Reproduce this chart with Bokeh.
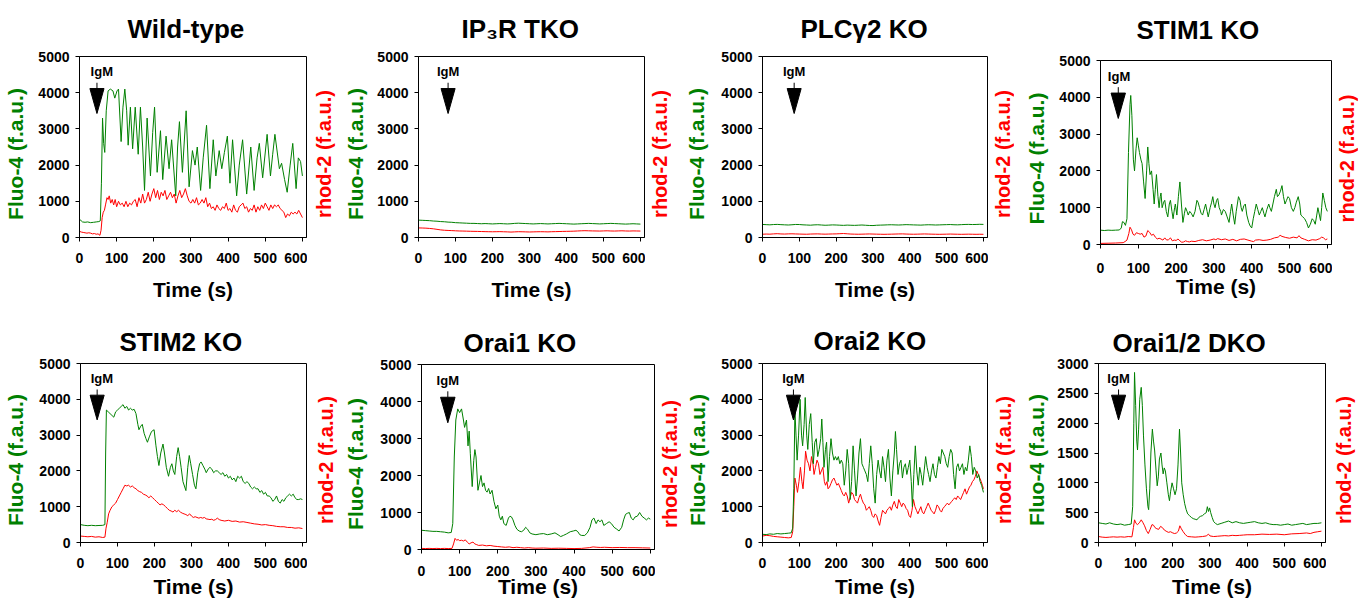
import math
from bokeh.plotting import figure
from bokeh.models import Range1d, FixedTicker
from bokeh.layouts import row, column
from bokeh.embed import file_html
from bokeh.resources import INLINE
from bokeh.core.properties import value

FONT = "Liberation Sans"
GREEN = "#008000"
RED = "#ff0000"

# ---------------- data (time in s, fluorescence in f.a.u.) ----------------
titles = ["Wild-type", "IP\u2083R TKO", "PLC\u03b32 KO", "STIM1 KO",
          "STIM2 KO", "Orai1 KO", "Orai2 KO", "Orai1/2 DKO"]
y_max = [5000, 5000, 5000, 5000, 5000, 5000, 5000, 3000]
y_step = [1000, 1000, 1000, 1000, 1000, 1000, 1000, 500]
igm_time = [47, 80, 86, 47, 45, 69, 84, 54]
x_ticks = [0, 100, 200, 300, 400, 500, 600]

wt_fluo = [(0,500),(4,470),(8,430),(15,420),(22,430),(30,410),(38,420),(45,430),(52,440),(56,460),(59,1500),(62,3300),(65,2600),(68,2350),(72,3500),(77,4050),(83,4100),(90,4050),(95,3850),(101,4050),(105,4100),(112,2650),(117,3600),(122,4100),(127,3500),(131,2550),(137,3600),(143,2450),(150,3600),(158,2300),(164,3600),(170,2500),(175,1300),(182,3300),(191,1700),(197,2900),(202,3600),(209,1800),(218,2950),(224,1600),(233,2800),(241,1900),(248,2700),(259,1150),(264,2500),(269,3200),(277,1800),(287,3500),(295,1400),(304,2400),(311,2000),(317,2500),(326,1300),(333,2200),(342,3100),(351,1350),(360,2700),(367,1700),(376,2400),(383,1900),(390,2350),(398,2800),(405,1500),(412,2700),(423,1150),(430,2000),(439,2700),(450,1200),(461,2500),(470,1300),(478,2200),(484,2600),(493,1650),(505,2850),(514,1700),(520,2300),(526,2850),(538,1900),(544,2050),(552,1600),(559,1250),(567,2000),(574,2600),(583,1350),(589,2200),(595,2100),(600,1700)]
wt_rhod = [(0,170),(5,150),(10,140),(15,130),(20,120),(25,130),(30,120),(35,100),(40,110),(45,90),(50,100),(55,60),(58,200),(61,550),(64,700),(67,750),(70,900),(74,1100),(77,1050),(80,1150),(84,950),(88,1050),(92,900),(96,1050),(100,850),(105,1000),(110,900),(115,950),(120,850),(125,1000),(130,850),(135,950),(140,900),(145,1000),(150,1050),(155,850),(160,1100),(165,950),(170,1200),(175,950),(180,1050),(185,1250),(190,1000),(195,1200),(200,1350),(205,1100),(210,1300),(215,1050),(220,1250),(225,1150),(230,1300),(235,1050),(240,1150),(245,1250),(250,1100),(255,1200),(260,950),(265,1150),(270,1300),(275,1100),(280,1200),(285,1350),(290,1150),(295,1000),(300,950),(305,1050),(310,950),(315,1100),(320,900),(325,950),(330,1050),(335,950),(340,1100),(345,850),(350,950),(355,800),(360,850),(365,750),(370,900),(375,800),(380,750),(385,850),(390,800),(395,950),(400,750),(405,800),(410,700),(415,900),(420,750),(425,700),(430,850),(435,900),(440,950),(445,800),(450,850),(455,700),(460,800),(465,750),(470,900),(475,700),(480,850),(485,750),(490,900),(495,800),(500,950),(505,850),(510,750),(515,900),(520,800),(525,900),(530,850),(535,900),(540,800),(545,750),(550,700),(555,550),(560,650),(565,600),(570,700),(575,650),(580,700),(585,650),(590,750),(595,650),(600,550)]

flat_time = list(range(0, 601, 10))
ip3r_fluo = [480,475,470,465,455,450,440,435,425,420,
             410,405,400,395,390,390,385,380,385,380,
             375,380,385,380,375,380,390,395,390,385,
             380,375,380,385,380,375,380,385,390,385,
             380,375,370,375,380,385,390,385,380,375,
             380,385,390,385,380,375,370,375,380,375,370]
ip3r_rhod = [265,262,258,250,240,225,210,200,195,190,
             185,180,178,175,172,170,168,165,162,160,
             158,160,162,158,155,150,155,160,158,155,
             152,155,158,160,158,155,160,162,165,168,
             170,172,175,180,185,188,185,182,180,178,
             182,185,180,178,182,185,180,178,182,180,178]
plc_fluo = [360,355,350,358,362,355,350,345,352,360,
            358,350,345,340,348,352,345,338,342,348,
            345,340,335,342,338,335,340,345,338,332,
            330,338,342,345,350,352,348,345,350,355,
            352,348,345,342,348,352,350,345,348,352,
            355,358,352,350,355,360,362,358,360,365,362]
plc_rhod = [90,95,92,100,105,98,95,100,102,98,
            95,92,90,95,98,100,95,92,95,98,
            100,105,110,102,95,92,90,92,95,98,
            95,92,90,88,90,92,95,98,100,95,
            92,90,92,95,98,95,92,90,88,90,
            92,95,92,90,88,90,92,90,88,90,88]

stim1_fluo = [(0,390),(10,380),(20,390),(30,385),(40,390),(50,395),(55,450),(58,620),(62,600),(66,520),(70,700),(74,2500),(78,3800),(80,4050),(83,3500),(87,2300),(90,2000),(94,2600),(97,2900),(100,2700),(103,2500),(107,2300),(110,2200),(114,1700),(118,1250),(122,2000),(125,2650),(128,2200),(131,1900),(135,2000),(139,1500),(142,1100),(145,1500),(148,1900),(152,1300),(155,1000),(158,1300),(160,1400),(163,1000),(167,1150),(170,1200),(174,900),(178,750),(182,1100),(185,1200),(189,900),(192,700),(196,1000),(198,1100),(202,800),(206,1300),(210,1700),(214,1100),(218,600),(222,850),(225,1000),(229,900),(232,800),(236,900),(240,850),(245,750),(250,900),(255,1200),(258,1150),(262,1000),(266,850),(270,800),(274,950),(278,1100),(282,900),(285,750),(290,1000),(294,1150),(297,1300),(300,1100),(303,1000),(307,1200),(310,1250),(314,1000),(318,900),(320,800),(325,950),(330,900),(335,750),(340,600),(344,900),(347,1100),(351,800),(355,550),(359,900),(362,1100),(365,1300),(369,1200),(372,1000),(375,900),(379,1050),(383,1100),(387,800),(392,600),(396,500),(400,450),(404,700),(408,900),(412,1100),(416,950),(420,800),(424,900),(428,1000),(432,850),(435,750),(440,950),(445,1100),(448,1000),(452,900),(456,1100),(460,1300),(465,1500),(468,1300),(472,1350),(476,1450),(480,1600),(484,1300),(488,1100),(492,1200),(496,1300),(500,1250),(505,1000),(510,900),(514,1000),(518,1150),(523,1300),(527,1100),(530,800),(535,750),(540,700),(545,600),(550,450),(555,550),(560,700),(564,650),(568,550),(572,800),(575,1000),(579,800),(582,650),(585,1000),(588,1400),(592,1200),(596,1000),(600,900)]
stim1_rhod = [(0,30),(20,35),(40,40),(60,50),(65,80),(70,120),(75,300),(78,470),(82,400),(86,280),(90,250),(95,320),(100,300),(105,280),(110,300),(115,200),(120,230),(125,380),(130,330),(135,250),(140,280),(145,200),(150,150),(155,170),(160,150),(165,120),(170,180),(175,120),(180,130),(185,180),(190,100),(195,120),(200,110),(205,150),(210,100),(215,60),(220,70),(225,100),(230,80),(235,70),(240,90),(250,80),(260,110),(270,130),(280,100),(290,120),(300,150),(305,130),(310,160),(320,130),(330,150),(340,110),(350,140),(360,100),(370,140),(380,150),(390,120),(400,90),(405,80),(410,120),(420,130),(430,110),(440,120),(450,140),(460,180),(470,200),(475,250),(480,220),(490,190),(500,170),(510,200),(520,180),(525,240),(530,180),(540,140),(550,100),(560,130),(570,120),(580,160),(585,200),(590,180),(595,130),(600,150)]

stim2_fluo = [(0,500),(10,480),(20,470),(30,480),(40,470),(50,475),(60,480),(66,500),(68,2500),(70,3700),(75,3650),(80,3600),(85,3550),(90,3500),(95,3650),(100,3700),(105,3750),(110,3800),(115,3850),(120,3750),(125,3800),(130,3700),(135,3750),(140,3700),(145,3720),(150,3600),(155,3300),(158,3150),(163,3250),(167,3300),(172,3050),(177,2900),(181,2800),(186,2950),(192,3100),(199,3150),(204,2700),(208,2400),(212,2150),(217,2500),(223,2750),(227,2500),(232,2100),(238,1850),(243,2100),(247,2200),(251,2000),(255,1900),(260,2400),(264,2650),(268,2400),(272,2100),(277,1700),(285,1450),(290,2100),(294,2430),(298,2200),(303,1900),(308,1600),(312,1500),(317,1950),(322,2200),(326,2250),(331,2150),(336,2050),(340,1950),(345,2050),(350,2100),(355,2050),(360,1950),(365,2000),(370,2000),(375,1950),(380,1900),(385,1950),(390,1850),(395,1900),(400,1800),(405,1850),(410,1750),(415,1800),(420,1700),(425,1850),(430,1800),(435,1850),(440,1700),(445,1650),(450,1700),(455,1650),(460,1550),(465,1500),(470,1550),(475,1500),(480,1500),(485,1400),(490,1450),(495,1350),(500,1400),(505,1300),(510,1300),(515,1250),(520,1150),(525,1200),(530,1300),(535,1150),(540,1100),(545,1200),(550,1150),(555,1250),(560,1300),(565,1350),(570,1300),(575,1350),(580,1250),(585,1200),(590,1200),(595,1220),(600,1200)]
stim2_rhod = [(0,180),(10,170),(20,160),(30,170),(40,150),(50,160),(60,140),(66,150),(69,400),(72,550),(76,800),(80,900),(85,1000),(90,1050),(95,1100),(100,1200),(105,1300),(110,1400),(115,1500),(120,1600),(125,1580),(130,1600),(135,1550),(140,1580),(145,1530),(150,1500),(155,1450),(160,1420),(165,1400),(170,1350),(175,1330),(180,1300),(185,1250),(190,1300),(195,1250),(200,1200),(205,1150),(210,1100),(215,1050),(220,1080),(225,1050),(230,1000),(235,950),(240,900),(245,880),(250,850),(255,900),(260,860),(265,900),(270,850),(275,820),(280,800),(285,780),(290,750),(295,800),(300,740),(305,700),(310,720),(315,700),(320,680),(325,700),(330,680),(335,700),(340,660),(345,650),(350,640),(355,650),(360,620),(365,640),(370,680),(375,640),(380,620),(390,600),(400,620),(410,590),(420,600),(430,570),(440,580),(450,560),(460,540),(470,520),(480,510),(490,490),(500,500),(510,480),(520,470),(530,450),(540,440),(550,440),(560,420),(570,420),(580,400),(590,410),(600,390)]

orai1_fluo = [(0,520),(10,510),(20,500),(30,490),(40,490),(50,480),(60,470),(70,450),(78,460),(82,700),(86,2500),(90,3500),(95,3800),(100,3700),(105,3800),(110,3500),(113,3300),(118,3500),(122,2800),(125,3200),(128,2600),(133,1700),(137,2400),(140,2700),(143,2500),(148,1600),(152,1800),(156,2000),(160,1700),(164,1800),(168,1600),(172,1550),(176,1650),(180,1500),(185,1600),(190,1300),(195,1100),(200,1200),(204,900),(208,800),(212,900),(216,700),(222,650),(228,850),(232,900),(236,880),(240,800),(245,650),(250,550),(256,500),(262,480),(268,520),(273,600),(278,550),(284,450),(290,420),(300,400),(310,420),(320,430),(330,400),(340,420),(350,450),(358,400),(365,350),(372,380),(380,420),(390,480),(398,500),(405,520),(410,480),(415,400),(420,380),(428,380),(435,450),(442,600),(447,800),(452,850),(458,700),(463,800),(468,750),(473,800),(478,650),(485,700),(492,750),(498,700),(505,600),(512,550),(518,500),(525,600),(530,800),(535,950),(540,980),(545,1000),(550,850),(555,800),(560,880),(566,900),(572,1000),(578,900),(584,850),(590,800),(595,850),(600,820)]
orai1_rhod = [(0,30),(10,25),(20,30),(30,25),(40,30),(50,25),(60,30),(70,25),(80,30),(84,150),(88,300),(92,250),(96,270),(100,240),(105,250),(110,230),(115,260),(120,200),(125,150),(130,180),(135,200),(140,150),(145,130),(150,110),(160,120),(170,100),(180,110),(190,90),(200,80),(210,70),(220,60),(230,70),(240,50),(250,60),(260,50),(270,40),(280,50),(290,40),(300,35),(320,40),(340,30),(360,35),(380,30),(400,25),(420,30),(440,50),(450,70),(460,60),(470,55),(480,60),(500,50),(520,55),(540,50),(560,50),(580,45),(600,40)]

orai2_fluo = [(0,230),(10,220),(20,240),(30,230),(40,250),(50,240),(60,250),(70,260),(78,270),(82,400),(85,1500),(88,3700),(91,3000),(94,2300),(98,3000),(102,4000),(106,3000),(109,2700),(113,3300),(116,4050),(120,3000),(123,2600),(127,3300),(131,3600),(135,2800),(138,2200),(142,2800),(146,2900),(150,2400),(154,2600),(158,2900),(161,3450),(164,2800),(167,2100),(171,2600),(174,2800),(178,1700),(182,2400),(186,2900),(190,2500),(194,2300),(198,2400),(202,2300),(206,2400),(210,2200),(214,2300),(218,2200),(222,1600),(226,2000),(230,2600),(234,2200),(238,1200),(242,1700),(246,2700),(250,2000),(254,1300),(258,1800),(262,2500),(266,2900),(270,2200),(274,2100),(278,2000),(282,1900),(286,1700),(290,2200),(294,2700),(298,2200),(302,1500),(306,1100),(310,1900),(314,2300),(318,2000),(322,1800),(326,2400),(330,2100),(334,1700),(338,2300),(342,2600),(346,1800),(350,1300),(354,2000),(358,2500),(361,3100),(364,2600),(368,1900),(372,2200),(376,2300),(380,1800),(384,2100),(388,2200),(392,1900),(396,2100),(400,2300),(404,1700),(407,1000),(411,1900),(415,2700),(419,2000),(423,1600),(427,2100),(431,1900),(435,1600),(439,2000),(443,2400),(447,2100),(451,1900),(455,1700),(459,2000),(463,2200),(467,1900),(471,1800),(475,2100),(479,2400),(483,2200),(487,2600),(491,2500),(495,2400),(499,2200),(503,2100),(507,2400),(511,2600),(515,2500),(519,1900),(523,1500),(527,2100),(531,2200),(535,2000),(539,2100),(543,2200),(547,1900),(551,2100),(555,2000),(559,2300),(563,2700),(567,2400),(571,1900),(575,2100),(579,2000),(583,1800),(587,1900),(591,1700),(595,1600),(600,1400)]
orai2_rhod = [(0,180),(10,200),(20,190),(30,170),(40,160),(50,150),(60,140),(70,130),(78,140),(82,300),(85,1000),(88,1800),(92,1600),(95,1400),(99,1700),(103,2100),(107,1700),(110,1500),(114,2000),(117,2550),(121,2300),(125,2200),(129,2000),(133,2400),(137,2200),(140,1900),(144,2100),(148,2300),(152,2200),(156,1900),(160,2000),(164,2100),(168,1700),(171,1600),(175,1700),(178,1500),(182,1550),(186,1650),(190,1750),(194,1800),(198,1700),(202,1600),(206,1650),(210,1550),(214,1450),(218,1350),(222,1300),(226,1400),(230,1300),(234,1100),(238,1250),(242,1400),(246,1350),(250,1200),(254,1150),(258,1100),(262,1250),(266,1350),(270,1200),(274,1100),(278,1050),(282,900),(286,950),(290,1000),(294,900),(298,750),(302,700),(306,800),(310,750),(314,600),(318,480),(322,700),(326,900),(330,850),(334,800),(338,900),(342,950),(346,1000),(350,900),(354,1050),(358,1150),(362,1000),(366,950),(370,1200),(374,1100),(378,1000),(382,1100),(386,1050),(390,950),(394,900),(398,750),(402,700),(406,900),(410,1200),(414,1000),(418,900),(422,800),(426,900),(430,1000),(434,850),(438,800),(442,900),(446,1000),(450,1100),(454,1000),(458,900),(462,850),(466,800),(470,900),(474,1050),(478,1000),(482,900),(486,850),(490,950),(494,1000),(498,1050),(502,1100),(506,1050),(510,1100),(514,1150),(518,1200),(522,1250),(526,1200),(530,1300),(534,1250),(538,1200),(542,1300),(546,1400),(550,1500),(554,1350),(558,1450),(562,1550),(566,1600),(570,1700),(574,1750),(578,1850),(582,2000),(586,1900),(590,1800),(594,1700),(597,1600),(600,1500)]

dko_fluo = [(0,330),(10,320),(20,310),(30,330),(40,310),(50,300),(60,310),(70,290),(80,300),(88,310),(92,600),(95,2000),(97,2850),(100,2300),(103,1700),(105,1550),(108,1900),(111,2400),(115,2600),(118,2300),(121,1800),(125,1300),(129,900),(133,600),(135,550),(138,900),(141,1500),(145,1900),(148,1700),(151,1550),(155,1200),(158,950),(161,1100),(164,1400),(168,1500),(171,1300),(174,1150),(177,1250),(180,1200),(184,1000),(188,800),(191,700),(194,850),(198,1000),(202,900),(206,800),(210,900),(214,1300),(218,1900),(221,1500),(224,1000),(228,800),(232,650),(236,550),(240,480),(245,450),(250,420),(255,400),(260,390),(265,380),(270,420),(275,440),(280,450),(285,480),(290,500),(293,600),(296,520),(299,580),(302,500),(306,420),(310,350),(315,320),(320,300),(330,320),(340,340),(350,360),(360,330),(370,350),(380,330),(390,320),(400,330),(410,340),(420,350),(430,330),(440,320),(450,330),(460,310),(470,300),(480,300),(490,290),(500,300),(510,310),(520,290),(530,300),(540,310),(550,320),(560,300),(570,310),(580,320),(590,320),(600,330)]
dko_rhod = [(0,100),(10,90),(20,85),(30,90),(40,95),(50,90),(60,95),(70,90),(80,100),(90,95),(94,250),(97,380),(101,320),(105,300),(110,330),(115,380),(119,340),(124,280),(129,200),(134,150),(139,220),(144,300),(148,290),(152,250),(157,230),(162,220),(167,270),(172,250),(177,210),(182,190),(188,170),(194,180),(200,160),(205,150),(210,160),(215,190),(219,280),(223,230),(228,180),(234,130),(240,100),(250,95),(260,90),(270,95),(280,100),(290,110),(296,140),(300,110),(310,100),(320,105),(330,110),(340,115),(350,110),(360,120),(370,115),(380,120),(390,125),(400,130),(420,130),(440,140),(460,135),(480,140),(500,130),(520,145),(540,150),(560,160),(570,150),(580,170),(590,180),(600,190)]

fluo_series = [wt_fluo, list(zip(flat_time, ip3r_fluo)), list(zip(flat_time, plc_fluo)), stim1_fluo,
               stim2_fluo, orai1_fluo, orai2_fluo, dko_fluo]
rhod_series = [wt_rhod, list(zip(flat_time, ip3r_rhod)), list(zip(flat_time, plc_rhod)), stim1_rhod,
               stim2_rhod, orai1_rhod, orai2_rhod, dko_rhod]

# ---------------- layout / style (pixels) ----------------
row_height = [306, 297]
# Fluo-4 title right edge, frame left, frame right, rhod-2 title right edge (page x)
hgeom = [(25, 79, 306, 333), (365, 418, 644, 668), (706, 762, 987, 1010), (1046, 1100, 1331, 1353),
         (25, 80, 306, 335), (365, 421, 654, 675), (707, 762, 987, 1013), (1046, 1098, 1325, 1353)]
label_shift = 7   # axis titles sit a little below the frame centre
# border top, bottom, x tick-label standoff, x axis-label standoff,
# title standoff, title vertical align, title offset from frame left, IgM label dx (data units)
vgeom = [
    (56, 69, 11, 12, 22, "top", 48, 13),
    (56, 69, 11, 12, 22, "top", 43, 0),
    (56, 69, 11, 12, 22, "top", 38, 0),
    (58, 62, 14, -1, 28, "top", 36, 2),
    (57, 61, 11, 4, 14, "bottom", 39, 13),
    (58, 54, 12, -4, 13, "bottom", 42, 0),
    (57, 61, 11, 4, 16, "bottom", 51, 0),
    (57, 61, 11, 4, 11, "bottom", 14, 0),
]


def no_align(p):
    try:
        p.frame_align = False
    except Exception:
        pass


def style_axis(ax):
    ax.axis_line_color = "black"
    ax.major_tick_line_color = "black"
    ax.major_tick_in = 0
    ax.major_tick_out = 4
    ax.minor_tick_in = 0
    ax.minor_tick_out = 0
    ax.major_label_text_font = FONT
    ax.major_label_text_font_style = "bold"
    ax.major_label_text_font_size = "14px"
    ax.major_label_text_color = "black"
    ax.axis_label_text_font = FONT
    ax.axis_label_text_font_style = "bold"
    ax.axis_label_text_font_size = "21px"
    ax.axis_label_text_color = "black"


def title_strip(x0, right_edge, h, bt, bb, ym, text, color, size, min_lb):
    """Narrow figure whose left-axis title is the (vertical) axis title of a panel."""
    lb = max(right_edge + 1 - x0, min_lb)
    s = figure(width=lb + 2, height=h, x_range=Range1d(0, 1), y_range=Range1d(0, ym),
               output_backend="svg", toolbar_location=None,
               min_border_left=lb, min_border_right=0,
               min_border_top=bt + label_shift, min_border_bottom=bb - label_shift)
    no_align(s)
    s.background_fill_color = "white"
    s.border_fill_color = "white"
    s.outline_line_color = None
    s.xgrid.visible = False
    s.ygrid.visible = False
    s.xaxis.visible = False
    sa = s.yaxis[0]
    style_axis(sa)
    sa.ticker = FixedTicker(ticks=[])
    sa.axis_line_color = None
    sa.major_tick_out = 0
    sa.major_label_standoff = 0
    sa.axis_label = text
    sa.axis_label_text_color = color
    sa.axis_label_text_font_size = size
    sa.axis_label_standoff = 0
    return s, x0 + lb + 2


def make_panel(i, x0):
    flr, fl, fr, rlr = hgeom[i]
    bt, bb, xts, xls, tso, tva, toff, igm_dx = vgeom[i]
    h = row_height[i // 4]
    ym = y_max[i]

    left, x0 = title_strip(x0, flr, h, bt, bb, ym, "Fluo-4 (f.a.u.)", GREEN, "21px", 26)

    p = figure(width=fr + 1 - x0, height=h, x_range=Range1d(0, 611), y_range=Range1d(0, ym),
               output_backend="svg", toolbar_location=None,
               min_border_left=fl - x0, min_border_right=1, min_border_top=bt, min_border_bottom=bb)
    no_align(p)
    p.background_fill_color = "white"
    p.border_fill_color = "white"
    p.outline_line_color = "black"
    p.outline_line_width = 1
    p.outline_line_alpha = 1
    p.xgrid.visible = False
    p.ygrid.visible = False

    p.title.text = titles[i]
    p.title.align = "left"
    p.title.vertical_align = tva
    p.title.offset = toff
    p.title.text_font = FONT
    p.title.text_font_style = "bold"
    p.title.text_font_size = "26px"
    p.title.text_color = "black"
    p.title.standoff = tso

    xa = p.xaxis[0]
    style_axis(xa)
    xa.ticker = FixedTicker(ticks=x_ticks)
    xa.major_label_standoff = xts
    xa.axis_label = "Time (s)"
    xa.axis_label_standoff = xls

    ya = p.yaxis[0]
    style_axis(ya)
    ya.ticker = FixedTicker(ticks=list(range(0, ym + 1, y_step[i])))
    ya.major_label_standoff = 6

    ft = [a for a, _ in fluo_series[i]]
    fv = [b for _, b in fluo_series[i]]
    rt = [a for a, _ in rhod_series[i]]
    rv = [b for _, b in rhod_series[i]]
    p.line(rt, rv, line_color=RED, line_width=1)
    p.line(ft, fv, line_color=GREEN, line_width=1)

    # IgM stimulus marker
    t0 = igm_time[i]
    p.patch([t0 - 19, t0 + 19, t0], [0.823 * ym, 0.823 * ym, 0.685 * ym],
            fill_color="black", line_color="black")
    p.segment([t0], [0.823 * ym], [t0], [0.855 * ym], line_color="black", line_width=1)
    p.text([t0 + igm_dx], [0.915 * ym], text=["IgM"], text_font=value(FONT),
           text_font_style="bold", text_font_size="13px", text_align="center",
           text_baseline="middle", text_color="black")

    right, x_end = title_strip(fr + 1, rlr, h, bt, bb, ym, "rhod-2 (f.a.u.)", RED, "20px", 24)
    return [left, p, right], x_end


rows = []
for r in range(2):
    items = []
    x0 = 0
    for i in range(4 * r, 4 * r + 4):
        figs, x0 = make_panel(i, x0)
        items += figs
    rows.append(row(*items))

layout = column(*rows)
open("out.html", "w").write(file_html(layout, INLINE))
